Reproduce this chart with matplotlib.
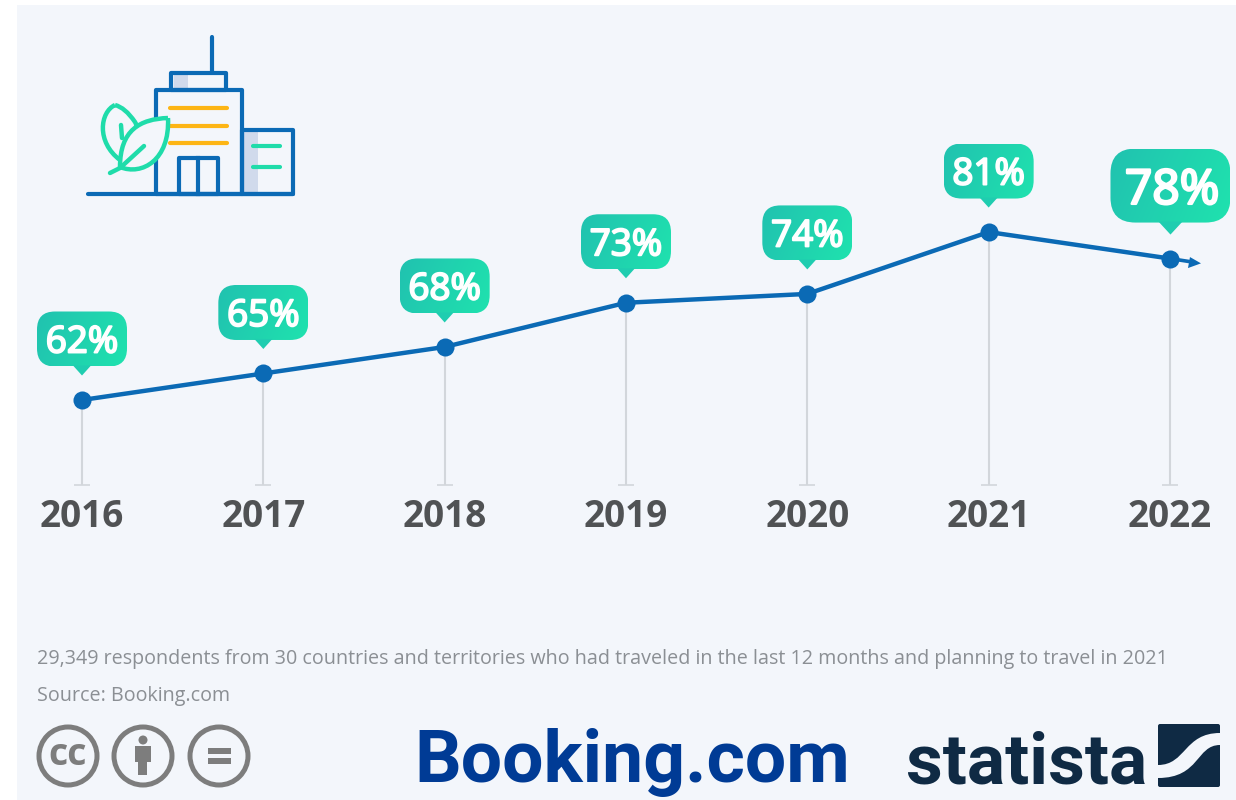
import numpy as np
import matplotlib
matplotlib.use("Agg")
import matplotlib.pyplot as plt
import matplotlib.patheffects as pe
from matplotlib.patches import Circle, FancyBboxPatch, PathPatch, Polygon, Rectangle
from matplotlib.path import Path

years = [2016, 2017, 2018, 2019, 2020, 2021, 2022]
shares = [62, 65, 68, 73, 74, 81, 78]
note = "29,349 respondents from 30 countries and territories who had traveled in the last 12 months and planning to travel in 2021"
source = "Source: Booking.com"

W, H = 1236, 800
BLUE = "#0b6ab5"
GREEN = "#1fdcaa"
YELLOW = "#fdb515"
PANEL = "#f3f6fb"
NAVY = "#0f2a44"
GREY = "#7d7d7d"
plt.rcParams["font.family"] = ["Open Sans", "DejaVu Sans"]

fig = plt.figure(figsize=(W / 100, H / 100), dpi=100, facecolor="white")

# pixel axes for the furniture (panel, icon, logos, bubbles)
px = fig.add_axes([0, 0, 1, 1], zorder=1)
px.set_xlim(0, W)
px.set_ylim(H, 0)
px.axis("off")
px.add_patch(Rectangle((17, 5), W - 17, H - 5, fc=PANEL, ec="none"))

# data axes lined up with the picture
ax = fig.add_axes([0, 0, 1, 1], zorder=2)
ax.patch.set_alpha(0)
step_x = 181.33
step_y = 8.84
ax.set_xlim(2016 - 82 / step_x, 2016 + (W - 82) / step_x)
ax.set_ylim(62 - (H - 400) / step_y, 62 + 400 / step_y)
ax.axis("off")

base = 62 - 85 / step_y
ax.vlines(years, base, shares, color="#d2d6db", lw=1.5, zorder=1)
ax.hlines([base] * len(years), np.array(years) - 8 / step_x, np.array(years) + 8 / step_x,
          color="#d2d6db", lw=1.2, zorder=1)
ax.plot(years, shares, color=BLUE, lw=3.2, zorder=2, solid_capstyle="round")
ax.plot(years, shares, "o", color=BLUE, ms=13, mec="none", zorder=3)
for y in years:
    ax.text(y, base - 3.6, str(y), ha="center", va="center", fontsize=26.6,
            fontweight="bold", color="#505254")

# arrow tail after the last point
lx, ly = px.transData.inverted().transform(ax.transData.transform((years[-1], shares[-1])))
px2 = fig.add_axes([0, 0, 1, 1], zorder=3)
px2.set_xlim(0, W)
px2.set_ylim(H, 0)
px2.axis("off")
px2.patch.set_alpha(0)
px2.plot([lx, lx + 22], [ly, ly + 3.4], color=BLUE, lw=2.6)
px2.add_patch(Polygon([[lx + 31, ly + 4.8], [lx + 18, ly + 9.5], [lx + 20, ly - 1.5]], fc=BLUE, ec="none"))

cmap = matplotlib.colors.LinearSegmentedColormap.from_list("g", ["#21c2b0", "#1fe2ae"])


def bubble(cx, top, w, h, tip, rad, label, size, stroke, nudge=0):
    left = cx - w / 2
    box = FancyBboxPatch((left + rad, top + rad), w - 2 * rad, h - 2 * rad,
                         boxstyle=f"round,pad={rad},rounding_size={rad}",
                         fc="none", ec="none", mutation_aspect=1)
    px2.add_patch(box)
    grad = np.linspace(0, 1, 64)[None, :] + np.linspace(0, 0.25, 32)[:, None]
    img = px2.imshow(grad, extent=(left, left + w, top + h, top), cmap=cmap, vmin=0, vmax=1.25,
                     aspect="auto", zorder=2, interpolation="bilinear")
    img.set_clip_path(box)
    px2.add_patch(Polygon([[cx - tip, top + h - 1], [cx + tip, top + h - 1], [cx, top + h + tip]],
                          fc="#1fcdb0", ec="none", zorder=2))
    # no semibold cut installed, so thicken the regular one a bit
    txt = px2.text(cx + nudge, top + h / 2, label, ha="center", va="center_baseline", color="white",
                   fontsize=size, zorder=4)
    txt.set_path_effects([pe.withStroke(linewidth=stroke, foreground="white")])


for y, s in zip(years, shares):
    bx, by = px.transData.inverted().transform(ax.transData.transform((y, s)))
    if y == 2022:
        bubble(bx + 0.5, by - 110, 120, 74, 12, 25, f"{s}%", 34.5, 1.8, nudge=1.5)
    else:
        bubble(bx, by - 88.5, 90, 55, 9, 18, f"{s}%", 26.5, 1.4)
px2.set_xlim(0, W)
px2.set_ylim(H, 0)

# building icon
kw = dict(fc="none", ec=BLUE, lw=3.0, joinstyle="round")
px.add_patch(Rectangle((174, 75), 14, 15, fc="#d0daec", ec="none"))
px.add_patch(Rectangle((244, 132), 14, 61, fc="#d0daec", ec="none"))
px.add_patch(Rectangle((171, 73), 55, 17, **kw))
px.add_patch(Rectangle((156, 90), 86, 104, **kw))
px.add_patch(Rectangle((242, 130), 51, 64, **kw))
px.add_patch(Rectangle((179, 158), 39, 36, **kw))
px.plot([198, 198], [158, 194], color=BLUE, lw=3.0)
px.plot([212, 212], [37, 73], color=BLUE, lw=3.0, solid_capstyle="round")
px.plot([88, 293], [194, 194], color=BLUE, lw=3.0, solid_capstyle="round")
for yy in (108, 126, 143):
    px.plot([170, 227], [yy, yy], color=YELLOW, lw=3.0, solid_capstyle="round")
for yy in (146, 167):
    px.plot([253, 280], [yy, yy], color=GREEN, lw=3.0, solid_capstyle="round")

C = Path.CURVE4
back = Path([(115, 105), (100, 112), (96, 142), (120, 160), (135, 150), (140, 130), (135, 122), (128, 112), (122, 107), (115, 105)],
            [Path.MOVETO, C, C, C, C, C, C, C, C, C])
front = Path([(168, 118), (140, 119), (120, 130), (120, 167), (142, 176), (170, 160), (168, 118)],
             [Path.MOVETO, C, C, C, C, C, C])
px.add_patch(PathPatch(back, fc=PANEL, ec=GREEN, lw=3.2, zorder=3))
px.add_patch(PathPatch(front, fc=PANEL, ec=GREEN, lw=3.2, zorder=4))
px.plot([110, 120, 144], [173, 168, 146], color=GREEN, lw=3.2, zorder=5, solid_capstyle="round")
px.plot([121, 122], [125, 138], color=GREEN, lw=3.2, zorder=3, solid_capstyle="round")

# footer
px.text(37, 659, note, ha="left", va="center", fontsize=14.22, color="#8b8f94")
px.text(37, 696, source, ha="left", va="center", fontsize=14.22, color="#8b8f94")

for cx in (68, 143, 219):
    px.add_patch(Circle((cx, 756), 29, fc="none", ec=GREY, lw=3.6))
px.text(68, 755, "cc", ha="center", va="center", fontsize=27, fontweight="bold", color=GREY)
px.add_patch(Circle((143, 740), 4.5, fc=GREY, ec="none"))
px.add_patch(Rectangle((135, 746), 16, 16, fc=GREY, ec="none"))
px.add_patch(Rectangle((138, 760), 9, 15, fc=GREY, ec="none"))
px.add_patch(Rectangle((208, 748), 23, 6, fc=GREY, ec="none"))
px.add_patch(Rectangle((208, 758), 23, 6, fc=GREY, ec="none"))

px.text(414, 782, "Booking.com", ha="left", va="baseline", fontsize=52.8, fontweight="bold",
        color="#003b95", family=["Roboto", "DejaVu Sans"])
px.text(906, 784, "statista", ha="left", va="baseline", fontsize=51.3, fontweight="bold",
        color=NAVY, family=["Roboto", "DejaVu Sans"])

px.add_patch(FancyBboxPatch((1160, 726), 58, 59, boxstyle="round,pad=2,rounding_size=2", fc=NAVY, ec="none"))
swoosh = Path([(1158, 765), (1186, 765), (1184, 733), (1220, 733), (1220, 745), (1196, 745), (1200, 778), (1158, 778), (1158, 765)],
              [Path.MOVETO, C, C, C, Path.LINETO, C, C, C, Path.CLOSEPOLY])
px.add_patch(PathPatch(swoosh, fc=PANEL, ec="none", zorder=3))

fig.savefig("out.png", dpi=100)
